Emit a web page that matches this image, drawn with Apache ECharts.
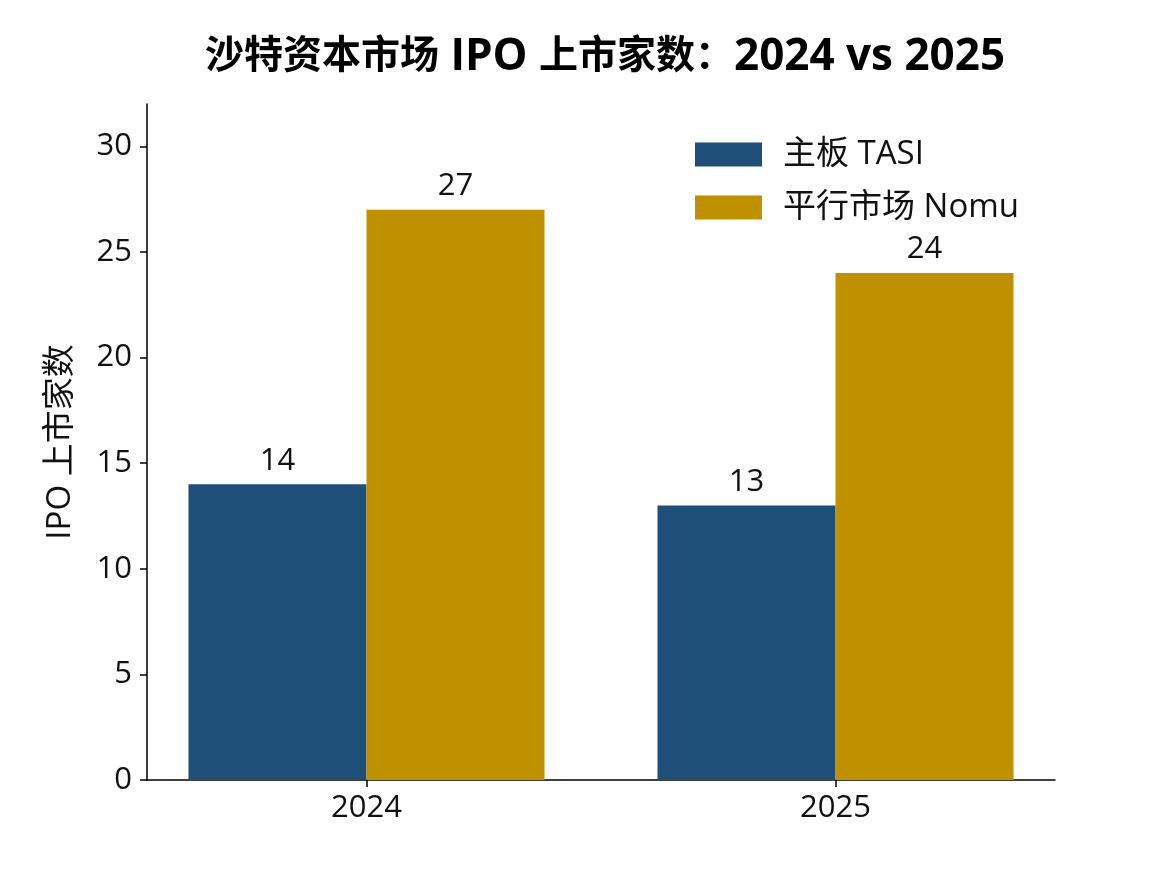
<!DOCTYPE html>
<html>
<head>
<meta charset="utf-8">
<script src="https://cdn.jsdelivr.net/npm/echarts@6/dist/echarts.min.js"></script>
<style>
  html, body { margin: 0; padding: 0; background: #fff; }
  #chart { width: 1172px; height: 878px; }
</style>
</head>
<body>
<div id="chart"></div>
<script>
// 数据
const years = ['2024', '2025'];
const xPos = [0, 1];
const tasiData = [14, 13];
const nomuData = [27, 24];
const yTicks = [0, 5, 10, 15, 20, 25, 30];

const font = '"Open Sans", "Noto Sans CJK SC", sans-serif';
const fs = 31;

const labelStyle = {
  show: true,
  position: 'top',
  distance: 8,
  fontSize: fs,
  color: '#111',
  fontFamily: font
};

// 标题：中文与拉丁字符分开设置字号
const titleRich = {
  c: { fontSize: 39, fontWeight: 'bold', color: '#000', fontFamily: font },
  l: { fontSize: 44, fontWeight: 'bold', color: '#000', fontFamily: font }
};

const option = {
  backgroundColor: '#fff',
  animation: false,
  title: {
    text: '{c|沙特资本市场}{l| IPO }{c|上市家数：}{l|2024 vs 2025}',
    left: 600,
    textAlign: 'center',
    top: 30,
    textStyle: { rich: titleRich, fontSize: 39, fontWeight: 'bold', fontFamily: font }
  },
  legend: {
    top: 133,
    left: 690,
    orient: 'vertical',
    icon: 'rect',
    itemWidth: 67,
    itemHeight: 24,
    itemGap: 20,
    itemStyle: { borderWidth: 0 },
    textStyle: { fontSize: 33, color: '#111', fontFamily: font, padding: [0, 0, 0, 16] },
    data: ['主板 TASI', '平行市场 Nomu']
  },
  grid: { left: 147, right: 117, top: 104, bottom: 98 },
  xAxis: {
    type: 'value',
    min: -0.468,
    max: 1.468,
    splitLine: { show: false },
    axisLine: { show: true, onZero: false, lineStyle: { color: '#000', width: 1.5 } },
    axisTick: { show: true, inside: false, length: 7, customValues: xPos, lineStyle: { color: '#000', width: 1.5 } },
    axisLabel: {
      customValues: xPos,
      margin: 13,
      fontSize: fs,
      color: '#111',
      fontFamily: font,
      formatter: (v) => years[Math.round(v)]
    }
  },
  yAxis: {
    type: 'value',
    min: 0,
    max: 32,
    name: 'IPO 上市家数',
    nameLocation: 'middle',
    nameGap: 70,
    nameTextStyle: { fontSize: 33, color: '#111', fontFamily: font },
    splitLine: { show: false },
    axisLine: { show: true, onZero: false, lineStyle: { color: '#000', width: 1.5 } },
    axisTick: { show: true, length: 7, customValues: yTicks, lineStyle: { color: '#000', width: 1.5 } },
    axisLabel: { customValues: yTicks, margin: 15, fontSize: fs, color: '#111', fontFamily: font }
  },
  series: [{
    name: '主板 TASI',
    type: 'bar',
    barWidth: 178,
    barGap: '0%',
    itemStyle: { color: '#1f4e79' },
    label: labelStyle,
    data: xPos.map((x, i) => [x, tasiData[i]])
  }, {
    name: '平行市场 Nomu',
    type: 'bar',
    barWidth: 178,
    barGap: '0%',
    itemStyle: { color: '#bf9000' },
    label: labelStyle,
    data: xPos.map((x, i) => [x, nomuData[i]])
  }]
};

let myChart = echarts.init(document.getElementById('chart'));
myChart.setOption(option);
</script>
</body>
</html>
